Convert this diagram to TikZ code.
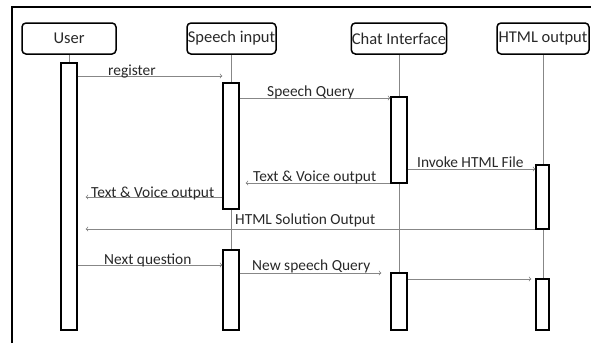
\documentclass[tikz,border=0pt]{standalone}
\usepackage{fontspec}
\setmainfont{Carlito}
\usepackage{xcolor}
\usepackage{tikz}
\usetikzlibrary{shapes,arrows,positioning,calc}
\definecolor{msggray}{RGB}{135,135,135}
\definecolor{txtgray}{RGB}{40,40,40}

\begin{document}
\begin{tikzpicture}[x=1pt, y=-1pt,
    head/.style={draw, line width=1.5pt, rounded corners=4pt, minimum height=31pt, inner sep=0.5pt, font=\fontsize{16.5}{18}\selectfont, text=txtgray},
    bar/.style={draw, line width=1.4pt, fill=white, minimum width=16pt, inner sep=0pt},
    life/.style={msggray, line width=0.7pt},
    msg/.style={msggray, line width=0.8pt, ->, >=to},
    lbl/.style={anchor=base west, inner sep=0pt, font=\fontsize{15.4}{17}\selectfont, text=txtgray}]
    \useasboundingbox (0,0) rectangle (591,343);
    \draw[line width=1.5pt] (12,343) -- (12,7) -- (591,7);
    % heads
    \node[head, minimum width=94pt] (user) at (69,38.5) {User};
    \node[head, minimum width=89pt] (speech) at (231.5,38.5) {Speech input};
    \node[head, minimum width=94pt] (chat) at (399,38.5) {Chat Interface};
    \node[head, minimum width=92pt] (html) at (543,38.5) {HTML output};
    % lifelines
    \draw[life] (user.south) -- (user.south |- 0,330);
    \draw[life] (speech.south) -- (speech.south |- 0,330);
    \draw[life] (chat.south) -- (chat.south |- 0,330);
    \draw[life] (html.south) -- (html.south |- 0,330);
    % activation bars
    \node[bar, minimum height=267pt] (ubar) at (69,196.5) {};
    \node[bar, minimum height=126pt] (sbar1) at (231,146) {};
    \node[bar, minimum height=86pt] (cbar1) at (399,140) {};
    \node[bar, minimum height=64pt, minimum width=13pt] (hbar1) at (542.5,197) {};
    \node[bar, minimum height=80pt] (sbar2) at (231,290) {};
    \node[bar, minimum height=57pt] (cbar2) at (399,301.5) {};
    \node[bar, minimum height=51pt, minimum width=13pt] (hbar2) at (542.5,304.5) {};
    % messages
    \draw[msg] (ubar.east |- 0,76) -- (sbar1.west |- 0,76);
    \node[lbl] (lreg) at (108,75) {register};
    \draw[msg] (sbar1.east |- 0,98) -- (cbar1.west |- 0,98);
    \node[lbl] (lsq) at (267,96.5) {Speech Query};
    \draw[msg] (cbar1.east |- 0,169) -- (hbar1.west |- 0,169);
    \node[lbl] (linv) at (417,167.5) {Invoke HTML File};
    \draw[msg] (cbar1.west |- 0,183) -- ($(sbar1.east |- 0,183)+(6,0)$);
    \node[lbl] (ltv1) at (253,181.5) {Text \& Voice output};
    \draw[msg] (sbar1.west |- 0,197) -- ($(ubar.east |- 0,197)+(8,0)$);
    \node[lbl] (ltv2) at (91,197.5) {Text \& Voice output};
    \draw[msg] (hbar1.west |- 0,229) -- ($(ubar.east |- 0,229)+(8,0)$);
    \node[lbl] (lhso) at (235,224.5) {HTML Solution Output};
    \draw[msg] (ubar.east |- 0,265) -- (sbar2.west |- 0,265);
    \node[lbl] (lnq) at (104,264) {Next question};
    \draw[msg] (sbar2.east |- 0,273) -- ($(cbar2.west |- 0,273)+(-9,0)$);
    \node[lbl] (lnsq) at (252,270) {New speech Query};
    \draw[msg] (cbar2.east |- 0,279) -- ($(hbar2.west |- 0,279)+(-4,0)$);
\end{tikzpicture}
\end{document}
